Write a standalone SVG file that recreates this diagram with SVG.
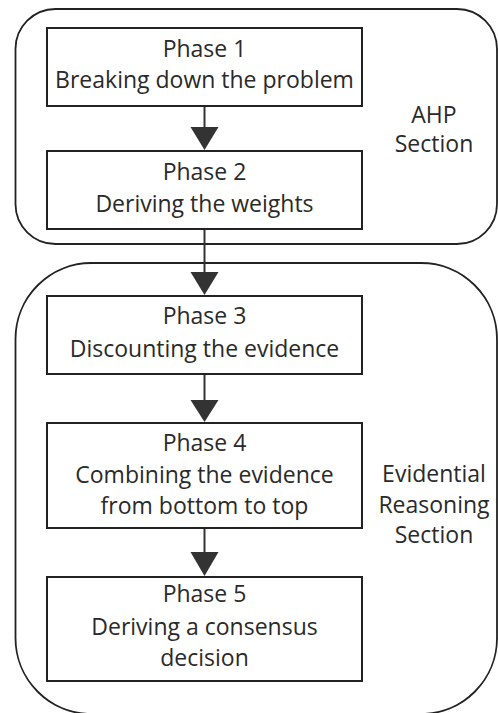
<svg xmlns="http://www.w3.org/2000/svg" width="498" height="713" viewBox="0 0 498 713">
<defs>
<style>
.sec{fill:none;stroke:#222;stroke-width:1.8}
.box{fill:#fff;stroke:#222;stroke-width:2}
.t{font-family:"Open Sans","Noto Sans",sans-serif;font-size:23px;fill:#2a2a2a;text-anchor:middle}
.ln{stroke:#333;stroke-width:2;fill:none}
.hd{fill:#333}
</style>
</defs>
<rect width="498" height="713" fill="#fff"/>
<g id="ahp-section">
<rect class="sec" x="15.5" y="9" width="481.5" height="235" rx="40"/>
<text class="t" x="434" y="123">AHP</text>
<text class="t" x="434" y="152">Section</text>
</g>
<g id="er-section">
<rect class="sec" x="15.5" y="263" width="481.5" height="451" rx="76"/>
<text class="t" x="434" y="482">Evidential</text>
<text class="t" x="434" y="513">Reasoning</text>
<text class="t" x="434" y="543">Section</text>
</g>
<g id="phase1">
<rect class="box" x="47" y="28" width="315" height="78"/>
<text class="t" x="204.5" y="57">Phase 1</text>
<text class="t" x="204.5" y="88">Breaking down the problem</text>
</g>
<g id="phase2">
<rect class="box" x="47" y="151" width="315" height="78"/>
<text class="t" x="204.5" y="180">Phase 2</text>
<text class="t" x="204.5" y="211.5">Deriving the weights</text>
</g>
<g id="phase3">
<rect class="box" x="47" y="296" width="315" height="78"/>
<text class="t" x="204.5" y="324">Phase 3</text>
<text class="t" x="204.5" y="356.5">Discounting the evidence</text>
</g>
<g id="phase4">
<rect class="box" x="47" y="423" width="315" height="105"/>
<text class="t" x="204.5" y="451">Phase 4</text>
<text class="t" x="204.5" y="482.5">Combining the evidence</text>
<text class="t" x="204.5" y="514">from bottom to top</text>
</g>
<g id="phase5">
<rect class="box" x="47" y="577" width="315" height="104"/>
<text class="t" x="204.5" y="602">Phase 5</text>
<text class="t" x="204.5" y="634.5">Deriving a consensus</text>
<text class="t" x="204.5" y="666">decision</text>
</g>
<g id="connectors">
<line class="ln" x1="204.5" y1="107" x2="204.5" y2="130"/>
<polygon class="hd" points="190.5,127 218.5,127 204.5,150"/>
<line class="ln" x1="204.5" y1="230" x2="204.5" y2="275"/>
<polygon class="hd" points="190.5,272 218.5,272 204.5,295"/>
<line class="ln" x1="204.5" y1="375" x2="204.5" y2="403"/>
<polygon class="hd" points="190.5,400 218.5,400 204.5,422"/>
<line class="ln" x1="204.5" y1="529" x2="204.5" y2="555"/>
<polygon class="hd" points="190.5,552 218.5,552 204.5,576"/>
</g>
</svg>
